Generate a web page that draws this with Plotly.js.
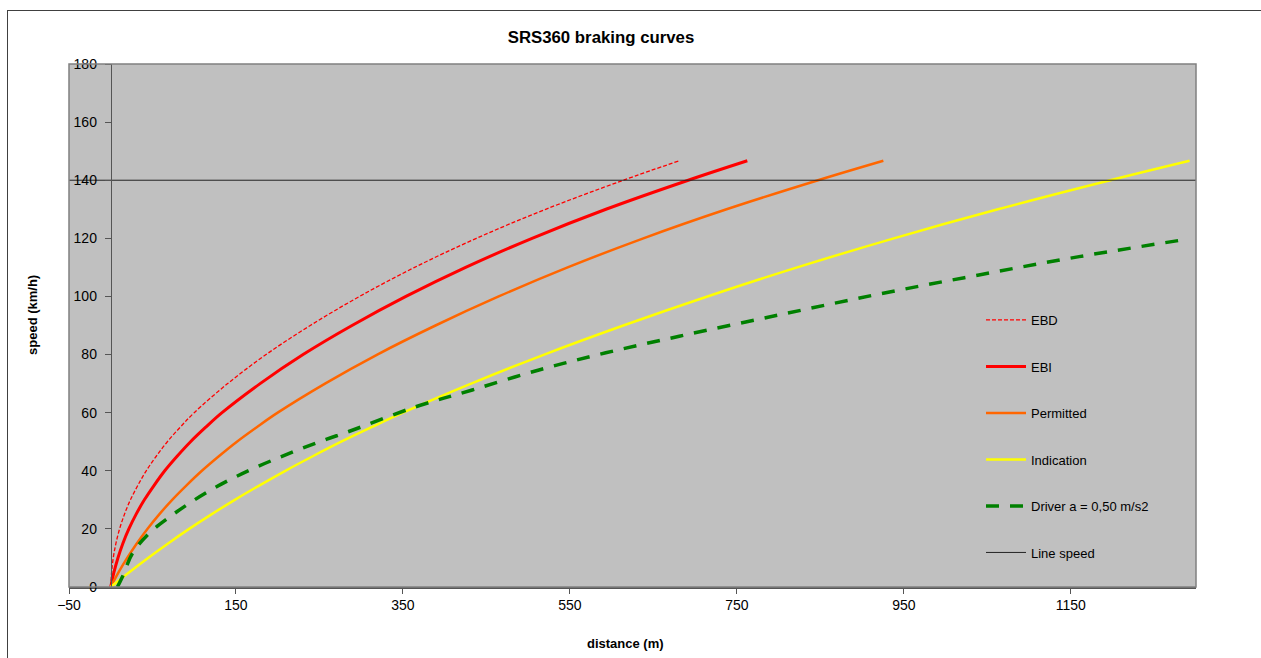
<!DOCTYPE html>
<html><head><meta charset="utf-8">
<script src="https://cdn.plot.ly/plotly-3.0.1.min.js"></script>
<style>
html,body{margin:0;padding:0;background:#fff;overflow:hidden}
#chart{width:1261px;height:658px;position:absolute;left:0;top:0}
#frame{position:absolute;left:7px;top:10px;width:1260px;height:660px;border-left:1px solid #404040;border-top:1px solid #404040;pointer-events:none}
</style></head><body>
<div id="chart"></div><div id="frame"></div>
<script>
// speeds (km/h) at which the braking curves are read
const speedSteps     = [0, 5, 10, 15, 20, 25, 30, 35, 40, 45, 50, 55, 60, 70, 80, 90, 100, 110, 120, 130, 140, 146.7];
// distances (m)
const ebdDist        = [0, 1, 3, 6.2, 10.6, 16.4, 23.6, 32.5, 42.5, 54.5, 67.8, 83.2, 100, 140, 186, 239, 298, 364, 438, 521, 614, 681];
const ebiDist        = [0, 3.8, 8.6, 14.5, 21.7, 30.3, 40.3, 52, 64.7, 79.5, 95.6, 113.8, 133.3, 178.9, 230.4, 289, 353.6, 425.1, 504.7, 593.2, 691.8, 762.5];
const permittedDist  = [0, 9.3, 19.7, 31.2, 43.9, 58.1, 73.6, 90.8, 109.2, 129.5, 151.1, 174.9, 200, 256.7, 319.3, 389, 464.7, 547.3, 638, 737.7, 847.3, 925.5];
const indicationDist = [0, 21.8, 44.7, 68.7, 93.9, 120.6, 148.6, 178.3, 209.2, 242, 276.1, 312.4, 350, 431.7, 519.3, 614, 714.7, 822.3, 938, 1062.7, 1197.3, 1292.3];
// driver curve a = 0,50 m/s2
const driverDist  = [8, 14, 26, 46, 70, 94, 120, 146, 174, 202, 230, 258, 286, 365, 433, 513, 593, 681, 800, 920, 1040, 1160, 1287];
const driverSpeed = [0, 3.5, 11.6, 18.5, 24, 28.8, 33.4, 37.4, 41.2, 44.6, 47.8, 50.8, 53.6, 62, 67.8, 74.7, 80.6, 86.3, 93.6, 100.8, 107.4, 113.7, 119.6];
// line speed
const lineSpeedDist  = [-50, 1300];
const lineSpeedValue = [140, 140];

const FONT = '"Liberation Sans", Arial, sans-serif';

const traces = [
  {name:'EBD', x:ebdDist, y:speedSteps, mode:'lines', legendgroup:'a',
   line:{color:'#FF0000', width:1.3, dash:'4px,2px', shape:'spline', smoothing:1}},
  {name:'EBI', x:ebiDist, y:speedSteps, mode:'lines', legendgroup:'b',
   line:{color:'#FF0000', width:3, shape:'spline', smoothing:1}},
  {name:'Permitted', x:permittedDist, y:speedSteps, mode:'lines', legendgroup:'c',
   line:{color:'#FF6600', width:2.5, shape:'spline', smoothing:1}},
  {name:'Indication', x:indicationDist, y:speedSteps, mode:'lines', legendgroup:'d',
   line:{color:'#FFFF00', width:2.5, shape:'spline', smoothing:1}},
  {name:'Driver a = 0,50 m/s2', x:driverDist, y:driverSpeed, mode:'lines', legendgroup:'e',
   line:{color:'#008000', width:3.5, dash:'13px,11px', shape:'spline', smoothing:1}},
  {name:'Line speed', x:lineSpeedDist, y:lineSpeedValue, mode:'lines', legendgroup:'f',
   line:{color:'#222222', width:1}}
];

const layout = {
  width:1261, height:658,
  margin:{l:69, r:65, t:64, b:71},
  paper_bgcolor:'#ffffff', plot_bgcolor:'#C0C0C0',
  font:{family:FONT, size:13, color:'#000'},
  showlegend:true,
  title:{text:'<b>SRS360 braking curves</b>', x:0.4766, xref:'container', xanchor:'center',
         y:0.944, yref:'container', yanchor:'middle', font:{family:FONT, size:16.8, color:'#000'}},
  xaxis:{range:[-50,1300], tick0:-50, dtick:200, showgrid:false, zeroline:false,
         showline:true, linecolor:'#555555', linewidth:1.5, ticks:'outside', ticklen:5,
         tickcolor:'#555555', tickfont:{family:FONT, size:14}, fixedrange:true},
  yaxis:{range:[0,180], dtick:20, showgrid:false, zeroline:false,
         anchor:'free', position:50/1350, showline:true, linecolor:'#555555', linewidth:1.5,
         ticks:'outside', ticklen:6, ticklabelstandoff:5, tickcolor:'#555555',
         tickfont:{family:FONT, size:14}, fixedrange:true},
  legend:{x:(981-69)/1127, xanchor:'left', y:(587-305)/523, yanchor:'top',
          bgcolor:'rgba(0,0,0,0)', borderwidth:0, tracegroupgap:26.6,
          font:{family:FONT, size:13, color:'#000'}, itemwidth:40},
  shapes:[{type:'rect', xref:'paper', yref:'paper', x0:0, x1:1, y0:0, y1:1,
           line:{color:'#808080', width:1.5}, layer:'above'}],
  annotations:[
    {text:'<b>distance (m)</b>', xref:'paper', yref:'paper', x:(625-69)/1127, y:(587-643)/523,
     xanchor:'center', yanchor:'middle', showarrow:false, font:{family:FONT, size:13}},
    {text:'<b>speed (km/h)</b>', xref:'paper', yref:'paper', x:(32-69)/1127, y:(587-315)/523,
     xanchor:'center', yanchor:'middle', showarrow:false, textangle:-90, font:{family:FONT, size:13}}
  ]
};

Plotly.newPlot('chart', traces, layout, {staticPlot:true, displayModeBar:false});
</script>
</body></html>
